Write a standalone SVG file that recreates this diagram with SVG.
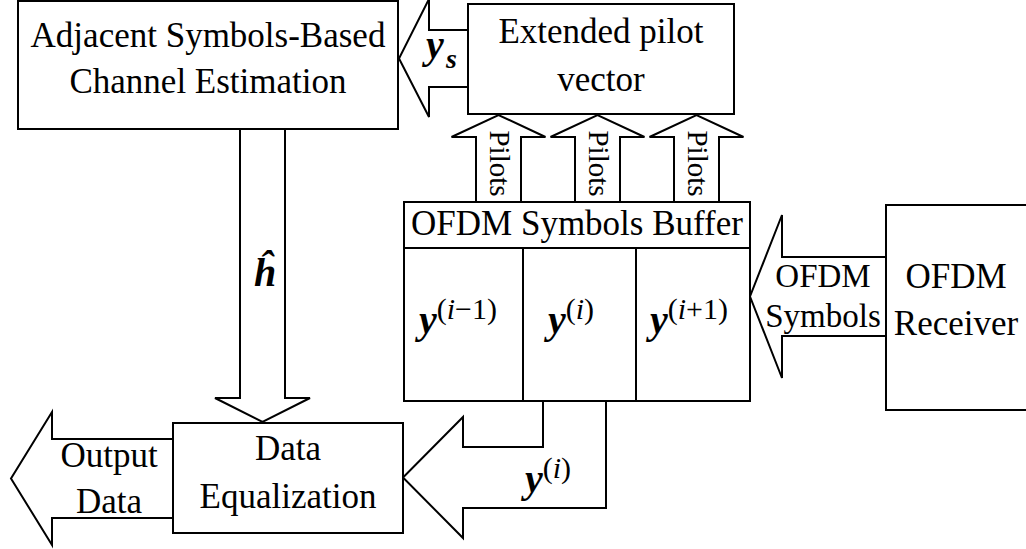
<svg xmlns="http://www.w3.org/2000/svg" width="1026" height="549" viewBox="0 0 1026 549">
  <style>
    .box { fill: #ffffff; stroke: #000000; stroke-width: 2; }
    .edge { fill: #ffffff; stroke: #000000; stroke-width: 2; stroke-linejoin: miter; }
    .line { fill: none; stroke: #000000; stroke-width: 2; }
    .lbl { font-family: "Liberation Serif", "Times New Roman", serif; font-size: 35px; fill: #000000; text-anchor: middle; }
    .small { font-size: 33px; }
    .pil { font-family: "Liberation Serif", "Times New Roman", serif; font-size: 29px; fill: #000000; text-anchor: middle; }
    .math { font-family: "Liberation Serif", "Times New Roman", serif; fill: #000000; }
    .vec { font-weight: bold; font-style: italic; font-size: 40px; }
    .sup { font-size: 30px; font-weight: normal; font-style: normal; }
    .it { font-style: italic; }
  </style>

  <!-- block arrows between the blocks -->
  <g id="connectors">
    <!-- y_s : pilot vector to channel estimator -->
    <polyline class="edge" points="468,30 429,30 429,-1 399,58.5 429,117 429,87 468,87"/>
    <text class="math vec" x="426" y="58">y</text>
    <text class="math" x="446" y="68" style="font-weight:bold;font-style:italic;font-size:28px">s</text>

    <!-- h-hat : channel estimator to equalizer -->
    <polyline class="edge" points="240,129 240,398 215,398 262.5,422 310,398 285,398 285,129"/>
    <text class="math vec" x="265" y="286" text-anchor="middle">ĥ</text>

    <!-- Pilots arrows from the buffer up to the pilot vector -->
    <polyline class="edge" points="476,202 476,137 451.5,137 498.5,115 545.5,137 521,137 521,202"/>
    <polyline class="edge" points="575,202 575,137 550.5,137 597.5,115 644.5,137 620,137 620,202"/>
    <polyline class="edge" points="674,202 674,137 649.5,137 696.5,115 743.5,137 719,137 719,202"/>
    <text class="pil" transform="translate(490,163.5) rotate(90)">Pilots</text>
    <text class="pil" transform="translate(589,163.5) rotate(90)">Pilots</text>
    <text class="pil" transform="translate(688,163.5) rotate(90)">Pilots</text>

    <!-- OFDM symbols : receiver to buffer -->
    <polyline class="edge" points="886,257 782,257 782,215 750,296.5 782,378 782,336 886,336"/>
    <text class="lbl small" x="823" y="287">OFDM</text>
    <text class="lbl small" x="823" y="327">Symbols</text>

    <!-- y^(i) : current symbol to equalizer -->
    <polyline class="edge" points="543,401 543,447 463,447 463,417 403,477.5 463,538 463,508 606,508 606,401"/>
    <text class="math" x="525" y="492"><tspan class="vec">y</tspan><tspan class="sup" dy="-14">(<tspan class="it">i</tspan>)</tspan></text>

    <!-- output data -->
    <polyline class="edge" points="173,439 52,439 52,412 11,478.5 52,545 52,518 173,518"/>
    <text class="lbl" x="109" y="467">Output</text>
    <text class="lbl" x="109" y="513">Data</text>
  </g>

  <g id="channel-estimation">
    <rect class="box" x="18" y="1" width="380" height="128"/>
    <text class="lbl" x="208" y="47">Adjacent Symbols-Based</text>
    <text class="lbl" x="208" y="93">Channel Estimation</text>
  </g>

  <g id="pilot-vector">
    <rect class="box" x="468" y="4" width="266" height="110"/>
    <text class="lbl" x="601" y="43">Extended pilot</text>
    <text class="lbl" x="601" y="91">vector</text>
  </g>

  <g id="symbols-buffer">
    <rect class="box" x="404" y="202" width="346" height="199"/>
    <line class="line" x1="404" y1="248" x2="750" y2="248"/>
    <line class="line" x1="523" y1="248" x2="523" y2="401"/>
    <line class="line" x1="636" y1="248" x2="636" y2="401"/>
    <text class="lbl" x="577" y="235">OFDM Symbols Buffer</text>
    <text class="math" x="419" y="333"><tspan class="vec">y</tspan><tspan class="sup" dy="-14">(<tspan class="it">i</tspan>−1)</tspan></text>
    <text class="math" x="548" y="333"><tspan class="vec">y</tspan><tspan class="sup" dy="-14">(<tspan class="it">i</tspan>)</tspan></text>
    <text class="math" x="650" y="333"><tspan class="vec">y</tspan><tspan class="sup" dy="-14">(<tspan class="it">i</tspan>+1)</tspan></text>
  </g>

  <g id="ofdm-receiver">
    <rect class="box" x="886" y="205" width="145" height="205"/>
    <text class="lbl" x="956" y="288">OFDM</text>
    <text class="lbl" x="956" y="335">Receiver</text>
  </g>

  <g id="data-equalization">
    <rect class="box" x="173" y="423" width="230" height="110"/>
    <text class="lbl" x="288" y="460">Data</text>
    <text class="lbl" x="288" y="508">Equalization</text>
  </g>
</svg>
